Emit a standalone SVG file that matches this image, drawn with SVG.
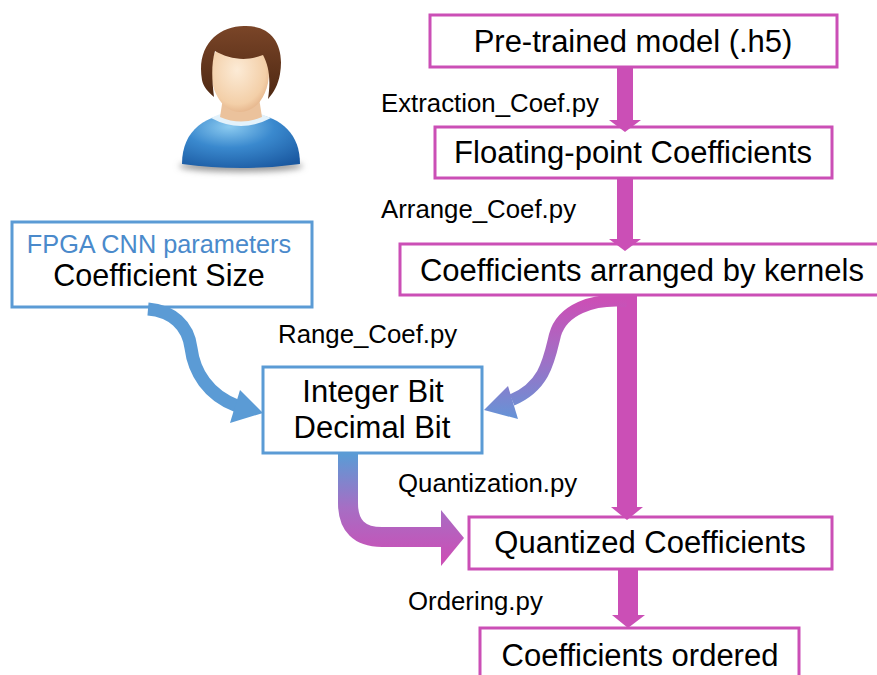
<svg xmlns="http://www.w3.org/2000/svg" width="877" height="675" viewBox="0 0 877 675">
  <defs>
    <style>
      .mbox { fill: #ffffff; stroke: #CB4FB6; stroke-width: 3; }
      .bbox { fill: #ffffff; stroke: #5B9BD5; stroke-width: 3; }
      .t { font-family: "Liberation Sans", Arial, sans-serif; fill: #000000; }
      .big { font-size: 31px; text-anchor: middle; }
      .lbl { font-size: 25.8px; }
      .mag { fill: #CB4FB6; }
    </style>
    <linearGradient id="gUp" gradientUnits="userSpaceOnUse" x1="0" y1="300" x2="0" y2="418">
      <stop offset="0" stop-color="#CB4FB6"/>
      <stop offset="0.45" stop-color="#A56CC4"/>
      <stop offset="1" stop-color="#6693D6"/>
    </linearGradient>
    <linearGradient id="gDown" gradientUnits="userSpaceOnUse" x1="0" y1="455" x2="0" y2="560">
      <stop offset="0" stop-color="#5B9BD5"/>
      <stop offset="0.5" stop-color="#A66EC4"/>
      <stop offset="1" stop-color="#CB4FB6"/>
    </linearGradient>
    <radialGradient id="gBody" cx="0.4" cy="0.25" r="0.85">
      <stop offset="0" stop-color="#8CCBF0"/>
      <stop offset="0.45" stop-color="#3A89CE"/>
      <stop offset="1" stop-color="#1A58A0"/>
    </radialGradient>
    <radialGradient id="gFace" cx="0.45" cy="0.4" r="0.7">
      <stop offset="0" stop-color="#FCEBD6"/>
      <stop offset="0.7" stop-color="#F3CFA8"/>
      <stop offset="1" stop-color="#DDA57A"/>
    </radialGradient>
    <linearGradient id="gHair" x1="0" y1="0" x2="0" y2="1">
      <stop offset="0" stop-color="#7A4528"/>
      <stop offset="1" stop-color="#4E2812"/>
    </linearGradient>
    <filter id="soft" x="-20%" y="-100%" width="140%" height="300%">
      <feGaussianBlur stdDeviation="3"/>
    </filter>
  </defs>

  <!-- user icon -->
  <g id="user">
    <ellipse cx="241" cy="166" rx="62" ry="6" fill="#9a9a9a" filter="url(#soft)"/>
    <path d="M182,164 C182,130 206,113 241,113 C276,113 300,130 300,164 Q241,172 182,164 Z" fill="url(#gBody)"/>
    <path d="M211,118 Q241,103 271,118 Q241,134 211,118 Z" fill="#E3F2FB"/>
    <path d="M223,98 L259,98 L262,117 Q241,126 220,117 Z" fill="#EBC29C"/>
    <path d="M211,70 C211,48 224,42 240,42 C258,42 269,50 269,72 C269,95 256,112 240,112 C224,112 211,94 211,70 Z" fill="url(#gFace)"/>
    <path d="M202,80 C196,46 218,26 244,26 C271,25 285,44 280,74 C278,85 274,92 268,99 C271,80 269,66 263,55 C246,62 229,59 215,51 C211,65 212,80 214,97 C208,92 203,86 202,80 Z" fill="url(#gHair)"/>
  </g>

  <!-- nodes -->
  <g id="pretrained">
    <rect class="mbox" x="430" y="15" width="407" height="52"/>
    <text class="t big" x="633" y="52">Pre-trained model (.h5)</text>
  </g>
  <g id="floating">
    <rect class="mbox" x="435" y="127" width="397" height="51"/>
    <text class="t big" x="633" y="163">Floating-point Coefficients</text>
  </g>
  <g id="arranged">
    <rect class="mbox" x="400" y="244" width="490" height="51"/>
    <text class="t big" x="642" y="281">Coefficients arranged by kernels</text>
  </g>
  <g id="fpga">
    <rect class="bbox" x="12" y="222" width="300" height="85"/>
    <text class="t" x="159" y="253" font-size="25.3" text-anchor="middle" style="fill:#4A8ACB">FPGA CNN parameters</text>
    <text class="t" x="159" y="286" font-size="30.5" text-anchor="middle">Coefficient Size</text>
  </g>
  <g id="bits">
    <rect class="bbox" x="263" y="367" width="219" height="86"/>
    <text class="t big" x="373" y="402">Integer Bit</text>
    <text class="t big" x="372" y="438">Decimal Bit</text>
  </g>
  <g id="quantized">
    <rect class="mbox" x="469" y="517" width="363" height="52"/>
    <text class="t big" x="650" y="553">Quantized Coefficients</text>
  </g>
  <g id="ordered">
    <rect class="mbox" x="480" y="628" width="319" height="60"/>
    <text class="t big" x="640" y="666">Coefficients ordered</text>
  </g>

  <!-- connectors -->
  <g id="connectors">
    <path class="mag" d="M617,67 H633 V120 H641 L625,132 L609,120 H617 Z"/>
    <path class="mag" d="M617,178 H633 V239 H641 L625,251 L609,239 H617 Z"/>
    <path class="mag" d="M617,295 H637 V507 H643 L627,520 L611,507 H617 Z"/>
    <path class="mag" d="M618,569 H638 V615 H645 L628,628 L612,615 H618 Z"/>

    <path d="M148,309 C172,311 188,325 191,348 C194,372 208,395 237,406" fill="none" stroke="#5B9BD5" stroke-width="13"/>
    <path d="M240,390 L263,413 L230,423 Z" fill="#5B9BD5"/>

    <path d="M627,301 C592,298 562,310 555,335 C549,360 545,386 512,400" fill="none" stroke="url(#gUp)" stroke-width="12"/>
    <path d="M508,386 L484,410 L518,419 Z" fill="url(#gUp)"/>

    <path d="M348,453 V503 Q348,537 382,537 H444" fill="none" stroke="url(#gDown)" stroke-width="20"/>
    <path d="M441,510 L464,538 L441,566 Z" fill="url(#gDown)"/>
  </g>

  <!-- script labels -->
  <g id="labels">
    <text class="t lbl" x="381" y="112">Extraction_Coef.py</text>
    <text class="t lbl" x="381" y="218">Arrange_Coef.py</text>
    <text class="t lbl" x="278" y="343">Range_Coef.py</text>
    <text class="t lbl" x="398" y="492">Quantization.py</text>
    <text class="t lbl" x="408" y="610">Ordering.py</text>
  </g>
</svg>
